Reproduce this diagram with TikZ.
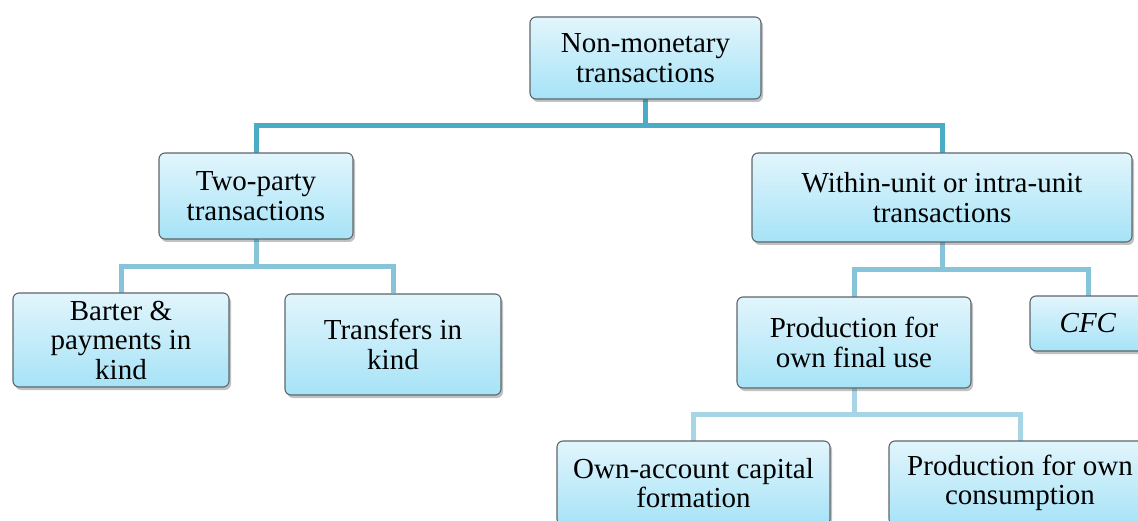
\documentclass[tikz,border=0pt]{standalone}
\usepackage{fontspec}
\setmainfont{Liberation Serif}
\newfontfamily\boxfont{Liberation Serif}
\usetikzlibrary{shadows}
\definecolor{topc}{HTML}{E2F5FC}
\definecolor{botc}{HTML}{A6E3F7}
\definecolor{edgec}{HTML}{5E666B}
\definecolor{lineA}{HTML}{4BACC6}
\definecolor{lineB}{HTML}{86C4DA}
\definecolor{lineC}{HTML}{A6D5E6}
\tikzset{
  box/.style={draw=edgec, line width=1.1pt, rounded corners=6pt,
    top color=topc, bottom color=botc, align=center, inner sep=0pt,
    font=\boxfont\fontsize{29}{29.5}\selectfont,
    drop shadow={shadow xshift=2pt, shadow yshift=-3pt, opacity=0.35, fill=black!70}},
  conA/.style={draw=lineA, line width=5pt},
  conB/.style={draw=lineB, line width=5pt},
  conC/.style={draw=lineC, line width=5pt},
}
\begin{document}
\begin{tikzpicture}[x=1pt,y=-1pt]
\useasboundingbox (0,0) rectangle (1138,521);
\clip (0,0) rectangle (1138,521);
% connectors first
\coordinate (rootS) at (645.5,99);
\coordinate (twoN) at (256,153);
\coordinate (withinN) at (942,153);
\draw[conA] (rootS) -- (645.5,126);
\draw[conA] (twoN) -- ++(0,-27) -| (withinN);
\coordinate (twoS) at (256,239);
\coordinate (barterN) at (121,293);
\coordinate (transN) at (393,293);
\draw[conB] (twoS) -- ++(0,28);
\draw[conB] (barterN) -- ++(0,-26) -| (transN);
\coordinate (withinS) at (942,242);
\coordinate (prodN) at (854,297);
\coordinate (cfcN) at (1088,297);
\draw[conB] (withinS) -- ++(0,28);
\draw[conB] (prodN) -- ++(0,-27) -| (cfcN);
\coordinate (prodS) at (854,388);
\coordinate (ownN) at (693.5,441);
\coordinate (consN) at (1020,441);
\draw[conC] (prodS) -- ++(0,26);
\draw[conC] (ownN) -- ++(0,-27) -| (consN);
% boxes
\node[box, minimum width=231pt, minimum height=82pt] (root) at (645.5,58) {Non-monetary\\transactions};
\node[box, minimum width=194pt, minimum height=86pt] (two) at (256,196) {Two-party\\transactions};
\node[box, minimum width=380pt, minimum height=89pt] (within) at (942,197.5) {Within-unit or intra-unit\\transactions};
\node[box, minimum width=216pt, minimum height=94pt] (barter) at (121,340) {Barter \&\\payments in\\kind};
\node[box, minimum width=216pt, minimum height=101pt] (trans) at (393,344.5) {Transfers in\\kind};
\node[box, minimum width=234pt, minimum height=91pt] (prod) at (854,342.5) {Production for\\own final use};
\node[box, minimum width=116pt, minimum height=55pt] (cfc) at (1088,323.5) {\textit{CFC}};
\node[box, minimum width=273pt, minimum height=84pt] (own) at (693.5,483) {Own-account capital\\formation};
\node[box, minimum width=262pt, minimum height=84pt] (cons) at (1020,483) {Production for own\\consumption};
\end{tikzpicture}
\end{document}
